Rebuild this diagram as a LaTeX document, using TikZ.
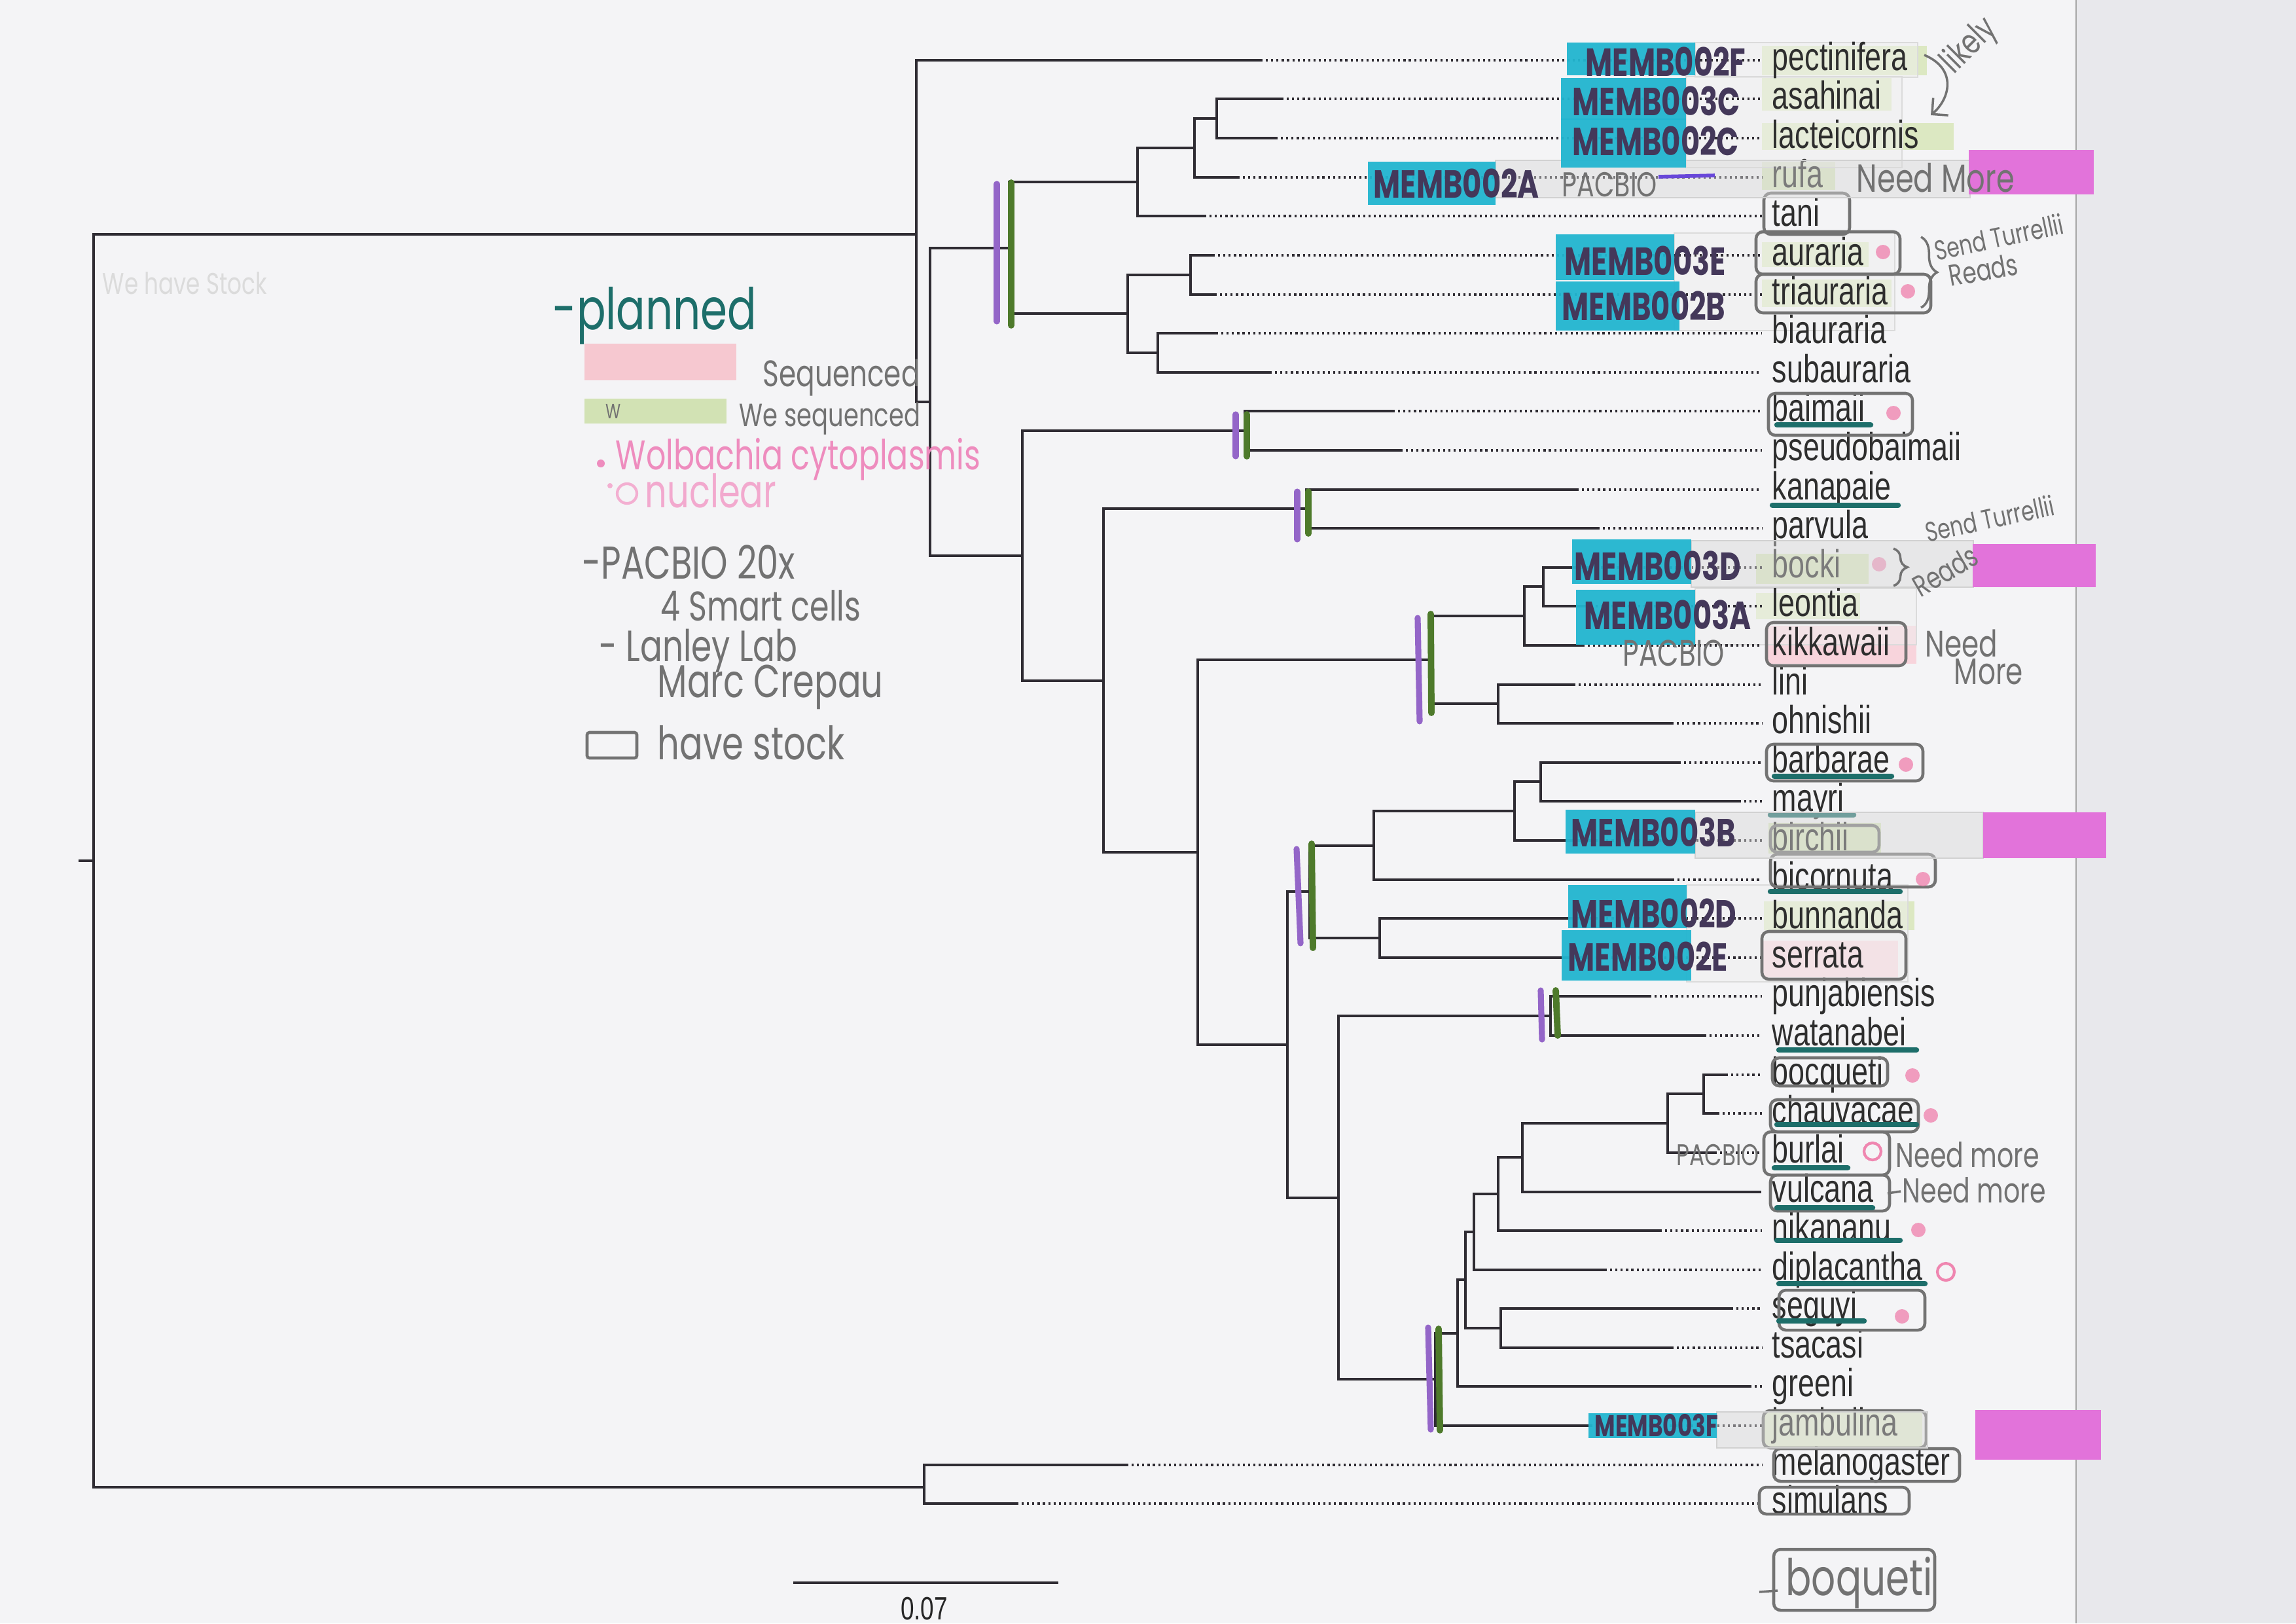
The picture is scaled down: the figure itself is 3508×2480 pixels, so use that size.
\documentclass[tikz,border=0pt]{standalone}
\usepackage{fontspec}
\setmainfont{Liberation Sans}
\newfontfamily\tipfont[FakeStretch=0.75]{Liberation Sans}
\newfontfamily\handfont[FakeStretch=0.75]{Poppins}
\usetikzlibrary{arrows.meta,decorations.pathreplacing}
\definecolor{paper}{HTML}{F4F4F6}
\definecolor{lid}{HTML}{E8E8EC}
\definecolor{treeink}{HTML}{2F2C33}
\definecolor{tapeblue}{HTML}{22B5D0}
\definecolor{tapemag}{HTML}{E273DA}
\definecolor{hlgreen}{HTML}{DCE8C2}
\definecolor{hlpink}{HTML}{F8D4DC}
\definecolor{swpink}{HTML}{F6C8D0}
\definecolor{swgreen}{HTML}{D2E2B4}
\definecolor{ulteal}{HTML}{1D6E6A}
\definecolor{wolbpink}{HTML}{EF86B0}
\definecolor{legpink}{HTML}{EE8CBE}
\definecolor{barpurple}{HTML}{9466C8}
\definecolor{bargreen}{HTML}{4E7A2B}
\definecolor{pencil}{HTML}{727272}
\definecolor{markink}{HTML}{44385A}

\begin{document}
\begin{tikzpicture}[x=0.01cm,y=-0.01cm,
  treeline/.style={draw=treeink,line width=1.1pt},
  dotlead/.style={draw=treeink,line width=0.9pt,dash pattern=on 0.9pt off 1.4pt},
  taxon/.style={anchor=west,inner xsep=0.15cm,inner ysep=0pt,text height=8.8pt,text depth=0pt,
    text=black!82,font=\tipfont\fontsize{17}{17}\selectfont},
  bluetape/.style={fill=tapeblue,fill opacity=0.95},
  magtape/.style={fill=tapemag},
  clearstrip/.style={fill=black!6,draw=black!14,line width=0.4pt,fill opacity=0.5},
  fadestrip/.style={fill=white!85!black,draw=black!18,line width=0.4pt,fill opacity=0.45},
  membtag/.style={anchor=west,inner sep=0pt,text=markink,font=\handfont\bfseries\fontsize{17}{17}\selectfont},
  pencilnote/.style={inner sep=0pt,text=pencil,font=\handfont\fontsize{#1}{#1}\selectfont},
  pencilnote/.default=16,
  stockbox/.style={draw=black!55,line width=1.3pt,rounded corners=3pt},
  uline/.style={draw=ulteal,line width=2.4pt,line cap=round},
  wolb/.style={circle,fill=wolbpink,fill opacity=0.8,minimum size=0.22cm,inner sep=0pt},
  nucl/.style={circle,draw=wolbpink,line width=1.2pt,minimum size=0.26cm,inner sep=0pt},
  pbar/.style={draw=barpurple,line width=2.6pt,line cap=round},
  gbar/.style={draw=bargreen,line width=2.8pt,line cap=round}]
\useasboundingbox (0,0) rectangle (3508,2480);

% paper and scanner lid
\fill[paper] (0,0) rectangle (3508,2480);
\fill[lid] (3172,0) rectangle (3508,2480);
\draw[black!35,line width=0.8pt] (3172,0) -- (3172,2480);

% highlighter under the names
\fill[hlgreen] (2692,70) rectangle (2944,115);
\fill[hlgreen] (2692,117) rectangle (2890,169);
\fill[hlgreen] (2692,188) rectangle (2985,229);
\fill[hlgreen] (2692,247) rectangle (2804,290);
\fill[hlgreen] (2692,370) rectangle (2855,408);
\fill[hlgreen] (2692,427) rectangle (2890,469);
\fill[hlgreen] (2683,846) rectangle (2855,892);
\fill[hlgreen] (2683,906) rectangle (2842,946);
\fill[hlgreen] (2702,1257) rectangle (2874,1304);
\fill[hlgreen] (2695,1377) rectangle (2925,1421);
\fill[hlgreen!70!white] (2694,2157) rectangle (2937,2210);
\fill[hlpink] (2699,956) rectangle (2928,1014);
\fill[hlpink] (2692,1437) rectangle (2900,1493);

% clear tape behind the names
\fill[clearstrip] (2590,65) rectangle (2930,118);
\fill[clearstrip] (2576,117) rectangle (2906,256);
\fill[clearstrip] (2558,356) rectangle (2895,505);
\fill[clearstrip] (2590,899) rectangle (2928,985);
\fill[clearstrip] (2577,1352) rectangle (2915,1500);

% taxa, branch ends and leaders
\foreach \nm/\yy/\ex in {pectinifera/92/1926, asahinai/151/1958, lacteicornis/211/1949,
    rufa/271/1891, tani/330/1840, auraria/390/1853, triauraria/450/1856,
    biauraria/509/1858, subauraria/569/1940, baimaii/628/2128, pseudobaimaii/688/2140,
    kanapaie/748/2409, parvula/807/2441, bocki/867/2430, leontia/926/2430,
    kikkawaii/986/2418, lini/1046/2404, ohnishii/1105/2554, barbarae/1165/2565,
    mayri/1224/2657, birchii/1284/2430, bicornuta/1344/2555, bunnanda/1403/2430,
    serrata/1463/2430, punjabiensis/1522/2520, watanabei/1582/2604, bocqueti/1642/2637,
    chauvacae/1701/2624, burlai/1761/2620, vulcana/1821/2688, nikananu/1880/2536,
    diplacantha/1940/2452, seguyi/1999/2645, tsacasi/2059/2554, greeni/2118/2673,
    jambulina/2178/2430, melanogaster/2238/1721, simulans/2297/1553}{
  \coordinate (e-\nm) at (\ex,\yy);
  \node[taxon] (t-\nm) at (2692,\yy) {\nm};
  \draw[dotlead] (e-\nm) -- (t-\nm.west);
}

% internal nodes
\foreach \nm/\xx/\yy in {root/143/1315, nA/1400/358, nB/1421/614, nC/1542/379,
    nD/1738/278, nE/1825/226, nF/1859/181, nG/1723/479, nH/1819/420, nI/1769/539,
    nK/1562/849, nJ/1902/658, nL/1686/1040, nM/1996/777, nN/1830/1302, nO/2184/1008,
    nP/2329/941, nR/2358/896, nQ/2289/1075, nS/1967/1596, nT/2001/1362, nU/2099/1292,
    nW/2314/1239, nX/2354/1194, nV/2108/1433, nY/2045/1830, nZ/2369/1552,
    nAA/2193/2107, nAB/2227/2037, nAC/2239/1955, nAD/2252/1882, nAE/2293/2029,
    nAF/2289/1824, nAG/2326/1768, nAH/2548/1716, nAI/2603/1671, nRB/1412/2272}
  \coordinate (\nm) at (\xx,\yy);
\coordinate (rootstem) at (120,1315);

% branches
\draw[treeline] (rootstem) -- (root);
\foreach \pa/\ch in {root/nA, root/nRB, nA/e-pectinifera, nA/nB, nB/nC, nB/nK,
    nC/nD, nC/nG, nD/nE, nD/e-tani, nE/nF, nE/e-rufa, nF/e-asahinai, nF/e-lacteicornis,
    nG/nH, nG/nI, nH/e-auraria, nH/e-triauraria, nI/e-biauraria, nI/e-subauraria,
    nK/nJ, nK/nL, nJ/e-baimaii, nJ/e-pseudobaimaii, nL/nM, nL/nN,
    nM/e-kanapaie, nM/e-parvula, nN/nO, nN/nS, nO/nP, nO/nQ, nP/nR, nP/e-kikkawaii,
    nR/e-bocki, nR/e-leontia, nQ/e-lini, nQ/e-ohnishii, nS/nT, nS/nY, nT/nU, nT/nV,
    nU/nW, nU/e-bicornuta, nW/nX, nW/e-birchii, nX/e-barbarae, nX/e-mayri,
    nV/e-bunnanda, nV/e-serrata, nY/nZ, nY/nAA, nZ/e-punjabiensis, nZ/e-watanabei,
    nAA/nAB, nAA/e-jambulina, nAB/nAC, nAB/e-greeni, nAC/nAD, nAC/nAE,
    nAD/nAF, nAD/e-diplacantha, nAF/nAG, nAF/e-nikananu, nAG/nAH, nAG/e-vulcana,
    nAH/nAI, nAH/e-burlai, nAI/e-bocqueti, nAI/e-chauvacae, nAE/e-seguyi, nAE/e-tsacasi,
    nRB/e-melanogaster, nRB/e-simulans}
  \draw[treeline] (\pa) |- (\ch);

% marker bars on clades
\draw[pbar] (1523,281) -- (1523,491);  \draw[gbar] (1545,279) -- (1545,497);
\draw[pbar] (1888,633) -- (1888,697);  \draw[gbar] (1905,633) -- (1905,697);
\draw[pbar] (1982,751) -- (1982,824);  \draw[gbar] (1999,751) -- (1999,815);
\draw[pbar] (2166,944) -- (2169,1102); \draw[gbar] (2186,938) -- (2187,1089);
\draw[pbar] (1981,1297) -- (1987,1441);\draw[gbar] (2004,1289) -- (2006,1448);
\draw[pbar] (2354,1513) -- (2356,1588);\draw[gbar] (2377,1513) -- (2380,1582);
\draw[pbar] (2182,2028) -- (2186,2184);\draw[gbar] (2198,2030) -- (2200,2185);

% scale bar
\coordinate (sb-a) at (1212,2418);
\coordinate (sb-b) at (1617,2418);
\draw[treeline] (sb-a) -- (sb-b);
\node[font=\tipfont\fontsize{14}{14}\selectfont,text=black!85,inner sep=0pt] (sb-lab) at (1412,2458) {0.07};

% have stock boxes
\draw[stockbox] (2695,295) rectangle (2826,358);
\draw[stockbox] (2683,354) rectangle (2903,419);
\draw[stockbox] (2683,419) rectangle (2950,478);
\draw[stockbox] (2702,601) rectangle (2922,665);
\draw[stockbox] (2699,951) rectangle (2912,1017);
\draw[stockbox] (2699,1137) rectangle (2938,1193);
\draw[stockbox] (2705,1261) rectangle (2871,1302);
\draw[stockbox] (2705,1305) rectangle (2957,1355);
\draw[stockbox] (2692,1423) rectangle (2912,1496);
\draw[stockbox] (2708,1616) rectangle (2884,1659);
\draw[stockbox] (2705,1680) rectangle (2931,1729);
\draw[stockbox] (2695,1729) rectangle (2887,1795);
\draw[stockbox] (2705,1795) rectangle (2887,1850);
\draw[stockbox] (2718,1971) rectangle (2941,2032);
\draw[stockbox] (2694,2155) rectangle (2943,2212);
\draw[stockbox] (2710,2213) rectangle (2994,2263);
\draw[stockbox] (2688,2272) rectangle (2917,2313);
\draw[stockbox] (2710,2367) rectangle (2956,2460);

% teal underlines
\draw[uline] (2715,649) -- (2858,649);
\draw[uline] (2708,772) -- (2900,772);
\draw[uline] (2711,1186) -- (2890,1186);
\draw[uline] (2705,1245) -- (2832,1245);
\draw[uline] (2705,1362) -- (2903,1362);
\draw[uline] (2718,1604) -- (2928,1604);
\draw[uline] (2715,1718) -- (2928,1718);
\draw[uline] (2711,1784) -- (2823,1784);
\draw[uline] (2715,1845) -- (2861,1845);
\draw[uline] (2715,1895) -- (2903,1895);
\draw[uline] (2718,1961) -- (2941,1961);
\draw[uline] (2718,2018) -- (2848,2018);

% Wolbachia dots
\node[wolb] (w-aur) at (2877,385) {};
\node[wolb] (w-tri) at (2915,445) {};
\node[wolb] (w-bai) at (2893,631) {};
\node[wolb] (w-boc) at (2871,862) {};
\node[wolb] (w-bar) at (2912,1168) {};
\node[wolb] (w-bic) at (2938,1343) {};
\node[wolb] (w-bcq) at (2922,1643) {};
\node[wolb] (w-cha) at (2950,1704) {};
\node[wolb] (w-nik) at (2931,1879) {};
\node[wolb] (w-seg) at (2906,2011) {};
\node[nucl] (o-bur) at (2861,1759) {};
\node[nucl] (o-dip) at (2973,1943) {};

% faded tape over some names
\fill[fadestrip] (2285,245) rectangle (3010,302);
\fill[fadestrip] (2584,826) rectangle (3015,897);
\fill[fadestrip] (2590,1241) rectangle (3030,1311);
\fill[fadestrip] (2623,2157) rectangle (2945,2212);

% blue sample tapes
\fill[bluetape] (2394,65) rectangle (2590,115);
\fill[bluetape] (2385,119) rectangle (2576,183);
\fill[bluetape] (2385,181) rectangle (2576,256);
\fill[bluetape] (2090,247) rectangle (2285,313);
\fill[bluetape] (2377,358) rectangle (2558,428);
\fill[bluetape] (2377,430) rectangle (2566,505);
\fill[bluetape] (2402,824) rectangle (2584,892);
\fill[bluetape] (2408,901) rectangle (2590,985);
\fill[bluetape] (2392,1237) rectangle (2590,1304);
\fill[bluetape] (2396,1352) rectangle (2577,1418);
\fill[bluetape] (2386,1421) rectangle (2584,1498);
\fill[bluetape] (2427,2159) rectangle (2623,2197);
\node[membtag] (m-pec) at (2422,94) {MEMB002F};
\node[membtag] (m-asa) at (2402,154) {MEMB003C};
\node[membtag] (m-lac) at (2402,215) {MEMB002C};
\node[membtag] (m-ruf) at (2098,280) {MEMB002A};
\node[membtag] (m-aur) at (2390,398) {MEMB003E};
\node[membtag] (m-tri) at (2386,467) {MEMB002B};
\node[membtag] (m-boc) at (2405,864) {MEMB003D};
\node[membtag] (m-leo) at (2420,939) {MEMB003A};
\node[membtag] (m-bir) at (2400,1271) {MEMB003B};
\node[membtag] (m-bun) at (2400,1395) {MEMB002D};
\node[membtag] (m-ser) at (2395,1461) {MEMB002E};
\node[membtag,font=\handfont\bfseries\fontsize{13}{13}\selectfont] (m-jam) at (2436,2178) {MEMB003F};

% magenta tapes
\fill[magtape] (3008,229) rectangle (3199,297);
\fill[magtape] (3014,831) rectangle (3202,897);
\fill[magtape] (3030,1241) rectangle (3218,1311);
\fill[magtape] (3018,2154) rectangle (3210,2230);

% pencil notes beside the names
\node[pencilnote=15,anchor=west] (pb-ruf) at (2386,282) {PACBIO};
\coordinate (pl-a) at (2534,270);
\coordinate (pl-b) at (2620,268);
\draw[draw=barpurple!70!blue,line width=1.6pt] (pl-a) -- (pl-b);
\node[pencilnote=17,anchor=west] (nm-ruf) at (2836,272) {Need More};
\coordinate (lk-a) at (2940,84);
\coordinate (lk-b) at (2950,176);
\draw[pencil,line width=1pt,-{Straight Barb[length=5pt]}] (lk-a) .. controls (2990,105) and (2980,150) .. (lk-b);
\node[pencilnote=15,rotate=45,anchor=south west] (lk-lab) at (2995,125) {likely};
\coordinate (br1-a) at (2935,362);
\coordinate (br1-b) at (2935,470);
\draw[pencil,line width=1pt,decorate,decoration={brace,amplitude=7pt}] (br1-a) -- (br1-b);
\node[pencilnote=12,rotate=12] (st-aur) at (3054,362) {Send Turrellii};
\node[pencilnote=13,rotate=10] (rd-aur) at (3030,412) {Reads};
\coordinate (br2-a) at (2893,838);
\coordinate (br2-b) at (2893,895);
\draw[pencil,line width=1pt,decorate,decoration={brace,amplitude=6pt}] (br2-a) -- (br2-b);
\node[pencilnote=12,rotate=12] (st-boc) at (3040,792) {Send Turrellii};
\node[pencilnote=13,rotate=30] (rd-boc) at (2972,872) {Reads};
\node[pencilnote=16,anchor=west] (pb-leo) at (2479,998) {PACBIO};
\node[pencilnote=16,anchor=west] (nd-kik) at (2941,983) {Need};
\node[pencilnote=16,anchor=west] (mo-kik) at (2985,1026) {More};
\node[pencilnote=13,anchor=west] (pb-bur) at (2561,1764) {PACBIO};
\node[pencilnote=15,anchor=west] (nm-bur) at (2896,1764) {Need more};
\coordinate (vd-a) at (2884,1823);
\coordinate (vd-b) at (2904,1820);
\draw[pencil,line width=1pt] (vd-a) -- (vd-b);
\node[pencilnote=15,anchor=west] (nm-vul) at (2906,1818) {Need more};
\coordinate (bq-a) at (2688,2432);
\coordinate (bq-b) at (2716,2430);
\draw[pencil,line width=1pt] (bq-a) -- (bq-b);
\node[pencilnote=22,anchor=west] (bq-lab) at (2728,2418) {boqueti};

% legend
\node[pencilnote=25,anchor=west,text=ulteal] (lg-plan) at (844,482) {-planned};
\fill[swpink] (893,525) rectangle (1125,581);
\node[pencilnote=16,anchor=west] (lg-seq) at (1165,577) {Sequenced};
\fill[swgreen] (893,609) rectangle (1110,647);
\node[pencilnote=9,anchor=west] (lg-w) at (925,628) {W};
\node[pencilnote=14,anchor=west] (lg-we) at (1129,640) {We sequenced};
\node[circle,fill=legpink,minimum size=0.12cm,inner sep=0pt] (lg-dot) at (918,708) {};
\node[pencilnote=18,anchor=west,text=legpink] (lg-wol) at (940,702) {Wolbachia cytoplasmis};
\node[circle,fill=legpink!70,minimum size=0.08cm,inner sep=0pt] (lg-dot2) at (932,742) {};
\node[circle,draw=legpink!70,line width=1.2pt,minimum size=0.3cm,inner sep=0pt] (lg-ring) at (958,754) {};
\node[pencilnote=20,anchor=west,text=legpink!75] (lg-nuc) at (985,750) {nuclear};
\node[pencilnote=20,anchor=west] (lg-pac) at (889,859) {-PACBIO 20x};
\node[pencilnote=18,anchor=west] (lg-smart) at (1009,925) {4 Smart cells};
\node[pencilnote=19,anchor=west] (lg-lab) at (915,994) {- Lanley Lab};
\node[pencilnote=20,anchor=west] (lg-marc) at (1004,1050) {Marc Crepau};
\draw[stockbox,rounded corners=1pt] (897,1119) rectangle (973,1158);
\node[pencilnote=20,anchor=west] (lg-stock) at (1004,1135) {have stock};
\node[pencilnote=13,anchor=west,text=black!14] (lg-faint) at (156,433) {We have Stock};
\end{tikzpicture}
\end{document}
